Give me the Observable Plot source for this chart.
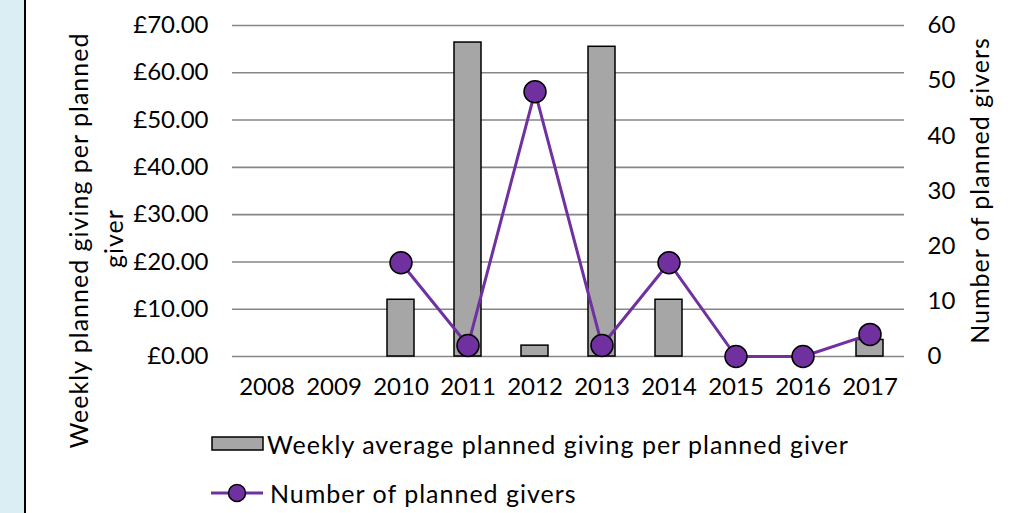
<!DOCTYPE html>
<html><head><meta charset="utf-8">
<script src="https://cdn.jsdelivr.net/npm/d3@7"></script>
<script src="https://cdn.jsdelivr.net/npm/@observablehq/plot@0.6"></script>
<style>
html,body{margin:0;padding:0;background:#fff;}
#wrap{position:relative;width:1023px;height:513px;overflow:hidden;font-family:Lato,"Noto Sans",sans-serif;color:#000;}
#strip{position:absolute;left:0;top:0;width:24px;height:513px;background:#DAEEF3;border-right:2px solid #000;}
#chart{position:absolute;left:0;top:0;}
.ytitle{position:absolute;font-size:25px;letter-spacing:1px;white-space:nowrap;transform-origin:center center;line-height:1;}
.leg{position:absolute;font-size:25px;letter-spacing:1px;white-space:nowrap;line-height:1;}
</style></head>
<body><div id="wrap"><div id="strip"></div><div id="chart"></div></div>
<script>
const years = ["2008","2009","2010","2011","2012","2013","2014","2015","2016","2017"];
const weeklyAverage = [null, null, 12.0, 66.4, 2.3, 65.5, 12.0, null, null, 3.5];
const plannedGivers = [null, null, 17, 2, 48, 2, 17, 0, 0, 4];
const leftTicks = [0, 10, 20, 30, 40, 50, 60, 70];
const rightTicks = [0, 10, 20, 30, 40, 50, 60];
const leftMax = 70, rightMax = 60;
const seriesNames = ["Weekly average planned giving per planned giver", "Number of planned givers"];
const axisTitles = ["Weekly planned giving per planned", "giver", "Number of planned givers"];

const k = leftMax / rightMax;
const bars = years.map((y, i) => ({year: y, v: weeklyAverage[i]})).filter(d => d.v != null);
const pts = years.map((y, i) => ({year: y, v: plannedGivers[i]})).filter(d => d.v != null);

const purple = "#7030A0";
const plot = Plot.plot({
  width: 1023, height: 400,
  marginLeft: 232, marginRight: 119, marginTop: 25, marginBottom: 44,
  style: {fontFamily: "Lato, 'Noto Sans', sans-serif", fontSize: "24px", color: "#000", background: "transparent"},
  x: {type: "band", domain: years, paddingInner: 0.6, paddingOuter: 0.3},
  y: {domain: [0, leftMax]},
  marks: [
    Plot.gridY(leftTicks, {stroke: "#868686", strokeOpacity: 1, strokeWidth: 1.6}),
    Plot.axisX({tickSize: 0, tickPadding: 21, label: null, fontSize: 24}),
    Plot.axisY(leftTicks, {anchor: "left", tickSize: 0, tickPadding: 24, label: null, tickFormat: d => "£" + d.toFixed(2), fontSize: 24}),
    Plot.axisY(rightTicks.map(v => v * k), {anchor: "right", tickSize: 0, tickPadding: 23, label: null, tickFormat: d => String(Math.round(d / k)), fontSize: 24}),
    Plot.barY(bars, {x: "year", y: "v", fill: "#A6A6A6", stroke: "#000", strokeWidth: 1.5}),
    Plot.line(pts, {x: "year", y: d => d.v * k, stroke: purple, strokeWidth: 3}),
    Plot.dot(pts, {x: "year", y: d => d.v * k, r: 11, fill: purple, stroke: "#000", strokeWidth: 1.5})
  ]
});
document.getElementById("chart").appendChild(plot);

const wrap = document.getElementById("wrap");
function title(text, cx, cy) {
  const d = document.createElement("div");
  d.className = "ytitle"; d.textContent = text;
  wrap.appendChild(d);
  const w = d.offsetWidth, h = d.offsetHeight;
  d.style.left = (cx - w / 2) + "px"; d.style.top = (cy - h / 2) + "px";
  d.style.transform = "rotate(-90deg)";
}
title(axisTitles[0], 79, 240);
title(axisTitles[1], 113, 238);
title(axisTitles[2], 979, 190);

// legend
const lg = d3.select(wrap);
const sw = lg.append("svg").attr("width", 70).attr("height", 80).style("position", "absolute").style("left", "200px").style("top", "425px");
sw.append("rect").attr("x", 12).attr("y", 12).attr("width", 51).attr("height", 13).attr("fill", "#A6A6A6").attr("stroke", "#000").attr("stroke-width", 1.5);
sw.append("line").attr("x1", 11).attr("x2", 63).attr("y1", 68).attr("y2", 68).attr("stroke", purple).attr("stroke-width", 3);
sw.append("circle").attr("cx", 37).attr("cy", 68).attr("r", 8.5).attr("fill", purple).attr("stroke", "#000").attr("stroke-width", 1.5);
lg.append("div").attr("class", "leg").style("left", "267px").style("top", "432px").text(seriesNames[0]);
lg.append("div").attr("class", "leg").style("left", "270px").style("top", "481px").text(seriesNames[1]);
</script></body></html>
